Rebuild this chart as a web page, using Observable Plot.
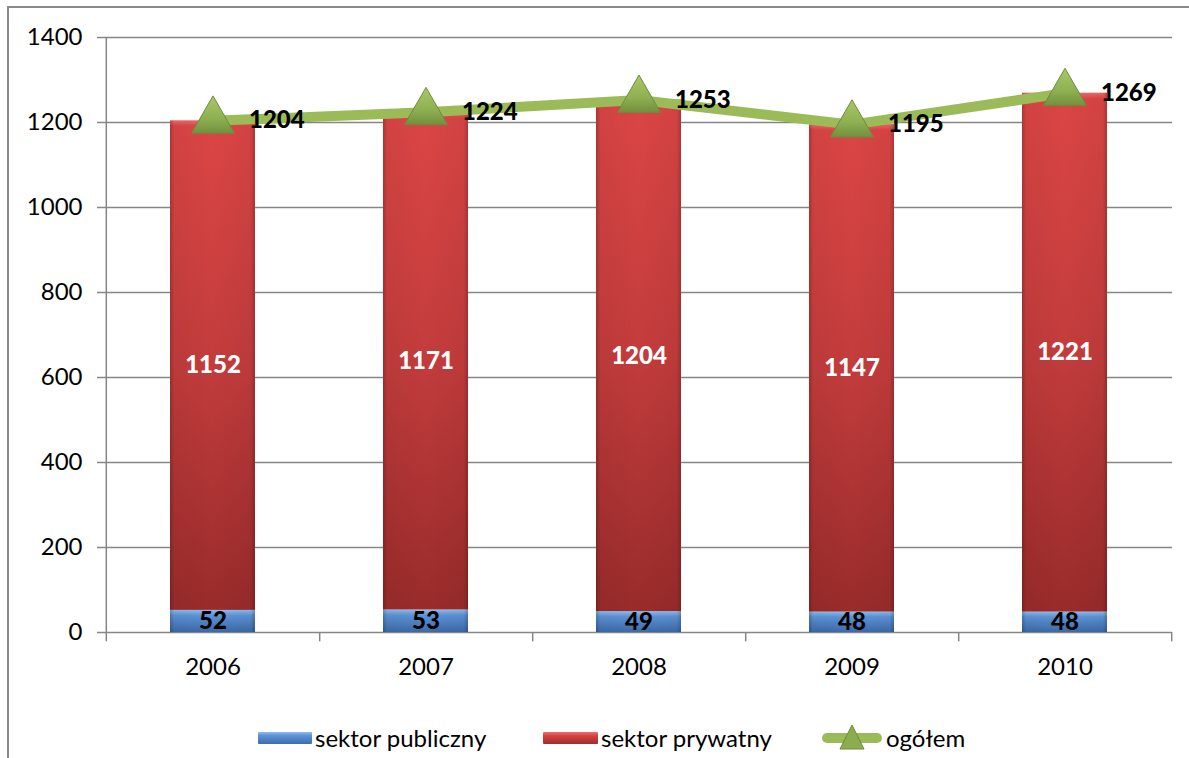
<!DOCTYPE html>
<html><head><meta charset="utf-8">
<script src="https://cdn.jsdelivr.net/npm/d3@7"></script>
<script src="https://cdn.jsdelivr.net/npm/@observablehq/plot@0.6"></script>
<style>
body{margin:0;background:#fff;font-family:Lato,sans-serif;width:1189px;height:758px;overflow:hidden;position:relative;}
#frame{position:absolute;left:7px;top:6px;width:1200px;height:760px;border-left:2px solid #8a8a8a;border-top:2px solid #8a8a8a;}
#chart{position:absolute;left:0;top:0;}
#legend{position:absolute;top:700px;left:0;width:1189px;height:58px;font-size:24px;color:#000;}
#legend .sw{position:absolute;height:12px;top:32px;border-radius:1px;}
#legend .tx{position:absolute;top:24px;line-height:28px;white-space:nowrap;}
</style></head>
<body>
<div id="frame"></div>
<div id="chart"></div>
<div id="legend">
  <div class="sw" style="left:258px;width:54px;background:linear-gradient(#8DBDF0,#5D93D6 30%,#3E6DAE);"></div>
  <div class="tx" style="left:315px;">sektor publiczny</div>
  <div class="sw" style="left:543px;width:55px;background:linear-gradient(#F07070,#D84343 30%,#9E2D2D);"></div>
  <div class="tx" style="left:601px;">sektor prywatny</div>
  <div class="sw" style="left:822px;width:60px;height:10px;top:33px;border-radius:5px;background:#9BBB59;"></div>
  <svg style="position:absolute;left:839px;top:24px;" width="26" height="26"><polygon points="13,1 25,25 1,25" fill="#8CAD4E" stroke="#6E8B3D" stroke-width="1"/></svg>
  <div class="tx" style="left:886px;">ogółem</div>
</div>
<script>
const years = ["2006", "2007", "2008", "2009", "2010"];
const publiczny = [52, 53, 49, 48, 48];
const prywatny = [1152, 1171, 1204, 1147, 1221];
const ogolem = [1204, 1224, 1253, 1195, 1269];
const yTicks = [0, 200, 400, 600, 800, 1000, 1200, 1400];

const rows = years.map((y, i) => ({year: y, pub: publiczny[i], pry: prywatny[i], tot: ogolem[i]}));

const W = 1189, H = 700, ML = 105, MR = 17, MT = 37, MB = 68;
const halfStep = (W - ML - MR) / years.length / 2;
const grey = "#868686";

const defsMark = () => {
  const g = d3.create("svg:g");
  const defs = g.append("defs");
  function lin(id, stops, horiz) {
    const lg = defs.append("linearGradient").attr("id", id)
      .attr("x1", 0).attr("y1", 0).attr("x2", horiz ? 1 : 0).attr("y2", horiz ? 0 : 1);
    stops.forEach(([o, c, op]) => lg.append("stop").attr("offset", o).attr("stop-color", c).attr("stop-opacity", op ?? 1));
  }
  lin("gRed", [[0, "#EE6A6A"], [0.012, "#DB4545"], [0.5, "#C33C3C"], [1, "#992B2B"]]);
  lin("gBlue", [[0, "#8DBDF0"], [0.25, "#5D93D6"], [1, "#3C6AA8"]]);
  lin("gEdge", [[0, "#000", 0.22], [0.05, "#000", 0.04], [0.5, "#000", 0], [0.95, "#000", 0.04], [1, "#000", 0.22]], true);
  lin("gGreen", [[0, "#A9C965"], [0.6, "#8FB052"], [1, "#728F3E"]]);
  return g.node();
};

const plot = Plot.plot({
  width: W, height: H,
  marginLeft: ML, marginRight: MR, marginTop: MT, marginBottom: MB,
  style: {fontFamily: "Lato, sans-serif", fontSize: "24px", color: "#000", background: "transparent"},
  x: {type: "band", domain: years, paddingInner: 0.6, paddingOuter: 0.3},
  y: {domain: [0, 1400]},
  marks: [
    defsMark,
    Plot.ruleY(yTicks, {stroke: grey, strokeWidth: 1.5}),
    Plot.ruleX([years[0]], {x: d => d, dx: -halfStep, y1: -22, y2: 1400, stroke: grey, strokeWidth: 1.5}),
    Plot.ruleX(years, {x: d => d, dx: halfStep, y1: -22, y2: 0, stroke: grey, strokeWidth: 1.5}),
    Plot.axisY({ticks: yTicks, tickSize: 8, tickPadding: 15, stroke: grey, strokeWidth: 1.5, fontSize: 24, label: null, tickFormat: d => String(d)}),
    Plot.axisX({tickSize: 0, tickPadding: 25, fontSize: 24, label: null}),
    Plot.barY(rows, {x: "year", y1: 0, y2: "pub", fill: "url(#gBlue)"}),
    Plot.barY(rows, {x: "year", y1: "pub", y2: d => d.pub + d.pry, fill: "url(#gRed)"}),
    Plot.barY(rows, {x: "year", y1: 0, y2: d => d.pub + d.pry, fill: "url(#gEdge)"}),
    Plot.line(rows, {x: "year", y: "tot", stroke: "#9BBB59", strokeWidth: 10, curve: "linear"}),
    Plot.dot(rows, {x: "year", y: "tot", symbol: "triangle", r: 16, fill: "url(#gGreen)", stroke: "#6E8B3D", strokeWidth: 1}),
    Plot.text(rows, {x: "year", y: d => d.pub / 2, text: d => String(d.pub), fill: "#000", fontWeight: 900, fontSize: 24}),
    Plot.text(rows, {x: "year", y: d => d.pub + d.pry / 2, text: d => String(d.pry), fill: "#fff", fontWeight: 900, fontSize: 24}),
    Plot.text(rows, {x: "year", y: "tot", text: d => String(d.tot), dx: 36, textAnchor: "start", fill: "#000", fontWeight: 900, fontSize: 24})
  ]
});
document.getElementById("chart").appendChild(plot);
</script>
</body></html>
